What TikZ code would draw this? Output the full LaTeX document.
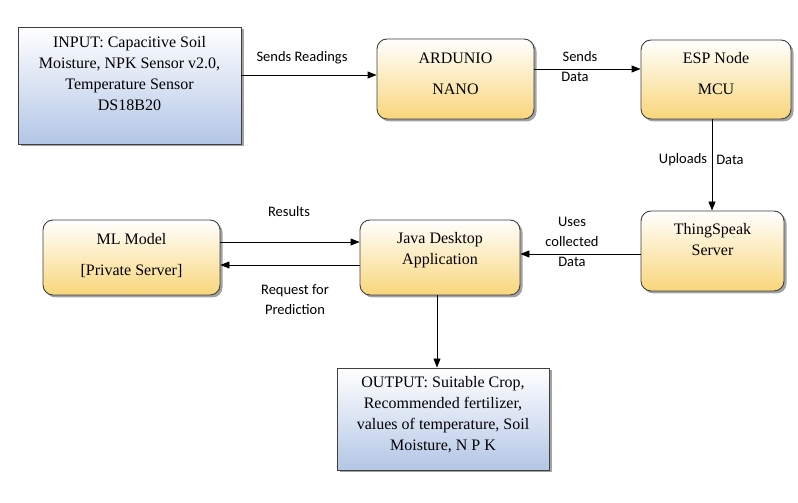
\documentclass[tikz,border=0pt]{standalone}
\usepackage{fontspec}
\setmainfont{Liberation Serif}
\newfontfamily\lblfont{Carlito}
\usetikzlibrary{arrows.meta,shadows}
\definecolor{bdr}{HTML}{3F3F3F}
\definecolor{ylow}{HTML}{F9D67A}
\definecolor{blow}{HTML}{B3C6E6}
\tikzset{
  boxbase/.style={draw=bdr, line width=0.9pt, inner sep=0pt,
    drop shadow={shadow xshift=2.5pt, shadow yshift=-2.5pt, fill=black!45, opacity=0.8}},
  ybox/.style={boxbase, rounded corners=10pt, top color=white, bottom color=ylow},
  bbox/.style={boxbase, top color=white, bottom color=blow},
  boxtext/.style={font=\fontsize{16}{21}\selectfont, align=center, inner sep=0pt},
  lbl/.style={font=\lblfont\fontsize{14.5}{20}\selectfont, align=center, inner sep=0pt},
  arr/.style={draw=black, line width=0.9pt, -{Triangle[length=9pt,width=7pt]}}
}
\begin{document}
\begin{tikzpicture}[x=1pt,y=1pt]
\useasboundingbox (0,0) rectangle (798,503);
% boxes
\node[bbox, minimum width=223pt, minimum height=117pt] (inp) at (129.5,417.5) {};
\node[boxtext] (inpt) at (129.5,429) {INPUT: Capacitive Soil\\Moisture, NPK Sensor v2.0,\\Temperature Sensor\\DS18B20};
\node[ybox, minimum width=157pt, minimum height=80pt] (ard) at (455.5,424) {};
\node[boxtext] (ardt) at (455.5,429.5) {ARDUNIO\\[10pt]NANO};
\node[ybox, minimum width=150pt, minimum height=79pt] (esp) at (716,423.5) {};
\node[boxtext] (espt) at (716,429) {ESP Node\\[10pt]MCU};
\node[ybox, minimum width=143pt, minimum height=80pt] (ts) at (712.5,252) {};
\node[boxtext] (tst) at (712.5,263.5) {ThingSpeak\\Server};
\node[ybox, minimum width=160pt, minimum height=75pt] (java) at (440,245.5) {};
\node[boxtext] (javat) at (440,252.5) {Java Desktop\\Application};
\node[ybox, minimum width=177pt, minimum height=75pt] (ml) at (131.5,245.5) {};
\node[boxtext] (mlt) at (131.5,247.5) {ML Model\\[10pt][Private Server]};
\node[bbox, minimum width=212pt, minimum height=102pt] (out) at (443,84) {};
\node[boxtext] (outt) at (443,88) {OUTPUT: Suitable Crop,\\Recommended fertilizer,\\values of temperature, Soil\\Moisture, N P K};
% connector levels
\coordinate (c1) at (0,428);
\coordinate (c2) at (0,434);
\coordinate (c3) at (712,0);
\coordinate (c4) at (0,249);
\coordinate (c5) at (0,261);
\coordinate (c6) at (0,238);
\coordinate (c7) at (437,0);
% connectors
\draw[arr] (inp.east |- c1) -- (ard.west |- c1);
\draw[arr] (ard.east |- c2) -- (esp.west |- c2);
\draw[arr] (esp.south -| c3) -- (ts.north -| c3);
\draw[arr] (ts.west |- c4) -- (java.east |- c4);
\draw[arr] (ml.east |- c5) -- (java.west |- c5);
\draw[arr] (java.west |- c6) -- (ml.east |- c6);
\draw[arr] (java.south -| c7) -- (out.north -| c7);
% labels
\node[lbl] (l1) at (302,445) {Sends Readings};
\node[lbl] (l2a) at (580,446) {Sends};
\node[lbl] (l2b) at (575,426) {Data};
\node[lbl] (l3a) at (683,343) {Uploads};
\node[lbl] (l3b) at (730,343) {Data};
\node[lbl] (l4) at (572,261) {Uses\\collected\\Data};
\node[lbl] (l5) at (289,291) {Results};
\node[lbl] (l6) at (295,203) {Request for\\Prediction};
\end{tikzpicture}
\end{document}
